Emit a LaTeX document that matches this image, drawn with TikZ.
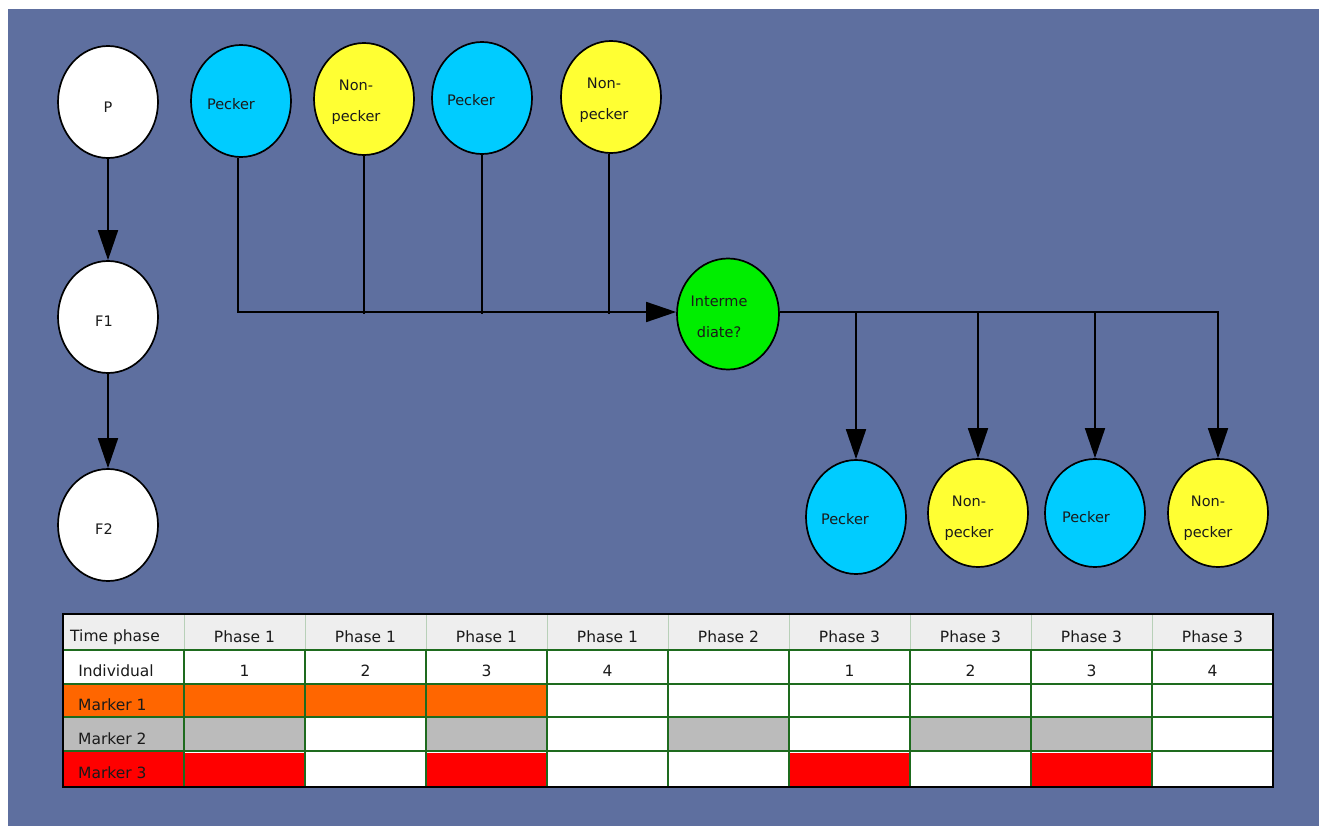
\documentclass[tikz,border=0pt]{standalone}
\usepackage{fontspec}
\setmainfont{DejaVu Sans}
\usetikzlibrary{shapes.geometric,arrows.meta}
\definecolor{bg}{HTML}{5E6F9F}
\definecolor{pk}{HTML}{00CCFF}
\definecolor{np}{HTML}{FFFF33}
\definecolor{imd}{HTML}{00EE00}
\definecolor{gridc}{HTML}{1E6B1E}
\definecolor{hdrsep}{HTML}{B8D0B8}
\definecolor{hdr}{HTML}{EEEEEE}
\definecolor{mk1}{HTML}{FF6600}
\definecolor{mk2}{HTML}{BBBBBB}
\definecolor{mk3}{HTML}{FF0000}
\definecolor{ink}{HTML}{1A1A1A}
\begin{document}
\begin{tikzpicture}[x=1pt,y=-1pt,
  bubble/.style={ellipse, draw=black, line width=1.7pt, minimum width=100pt,
                 minimum height=112pt, inner sep=0pt},
  lbl/.style={text=ink, font=\fontsize{14.5}{31}\selectfont, align=center, inner sep=0pt},
  conn/.style={line width=1.7pt, draw=black},
  arr/.style={conn, -{Triangle[length=30pt,width=20pt]}},
  cell/.style={font=\fontsize{15.5}{17}\selectfont, text=ink, inner sep=0pt},
]
% page and backdrop
\useasboundingbox (0,0) rectangle (1319,826);
\fill[white] (0,0) rectangle (1319,826);
\fill[bg] (8,9) rectangle (1319,826);

% generations
\node[bubble, fill=white] (P)  at (108,102) {};
\node[bubble, fill=white] (F1) at (108,317) {};
\node[bubble, fill=white] (F2) at (108,525) {};
\node[lbl] (Pt)  at (108,107) {P};
\node[lbl] (F1t) at (104,321) {F1};
\node[lbl] (F2t) at (104,529) {F2};

% phase 1 individuals
\node[bubble, fill=pk] (pk1) at (241,101) {};
\node[bubble, fill=np] (np1) at (364,99)  {};
\node[bubble, fill=pk] (pk2) at (482,98)  {};
\node[bubble, fill=np] (np2) at (611,97)  {};
\node[lbl] (pk1t) at (231,104) {Pecker};
\node[lbl] (np1t) at (356,102) {Non-\\pecker};
\node[lbl] (pk2t) at (471,100) {Pecker};
\node[lbl] (np2t) at (604,100) {Non-\\pecker};

% intermediate
\node[bubble, fill=imd, minimum width=102pt, minimum height=111pt] (im) at (728,314) {};
\node[lbl] (imt) at (719,317) {Interme\\diate?};

% phase 3 individuals
\node[bubble, fill=pk, minimum height=114pt] (pk3) at (856,517) {};
\node[bubble, fill=np, minimum height=108pt] (np3) at (978,513) {};
\node[bubble, fill=pk, minimum height=108pt] (pk4) at (1095,513) {};
\node[bubble, fill=np, minimum height=108pt] (np4) at (1218,513) {};
\node[lbl] (pk3t) at (845,519) {Pecker};
\node[lbl] (np3t) at (969,518) {Non-\\pecker};
\node[lbl] (pk4t) at (1086,517) {Pecker};
\node[lbl] (np4t) at (1208,518) {Non-\\pecker};

% generation arrows
\draw[arr] (P.south) -- (F1.north);
\draw[arr] (F1.south) -- (F2.north);

% converging trunk
\draw[arr] ([xshift=-3pt]pk1.south) |- ([yshift=2pt]im.west);
\draw[conn] (np1.south) -- (np1.south |- im.west);
\draw[conn] (pk2.south) -- (pk2.south |- im.west);
\draw[conn] ([xshift=-2pt]np2.south) -- ([xshift=-2pt]np2.south |- im.west);

% diverging trunk
\draw[arr] ([yshift=2pt]im.east) -| (np4.north);
\draw[arr] ([yshift=2pt]im.east -| pk3.north) -- (pk3.north);
\draw[arr] ([yshift=2pt]im.east -| np3.north) -- (np3.north);
\draw[arr] ([yshift=2pt]im.east -| pk4.north) -- (pk4.north);

% ---- marker table ----
\fill[white] (63,614) rectangle (1273,787);
\fill[hdr] (63,614) rectangle (1273,650);
% label column fills
\fill[mk1] (63,684) rectangle (184,717);
\fill[mk2] (63,717) rectangle (184,751);
\fill[mk3] (63,751) rectangle (184,787);
% marker cells
\foreach \k in {1,2,3}
  \fill[mk1] ({63+121*\k},684) rectangle +(121,33);
\foreach \k in {1,3,5,7,8}
  \fill[mk2] ({63+121*\k},717) rectangle +(121,34);
\foreach \k in {1,3,6,8}
  \fill[mk3] ({63+121*\k},753) rectangle +(121,34);
% grid
\foreach \k in {1,...,9}
  \draw[hdrsep, line width=0.8pt] ({63+121*\k},614) -- ({63+121*\k},650);
\foreach \k in {1,...,9}
  \draw[gridc, line width=1.4pt] ({63+121*\k},650) -- ({63+121*\k},787);
\foreach \y in {650,684,717,751}
  \draw[gridc, line width=1.4pt] (63,\y) -- (1273,\y);
\draw[black, line width=2pt] (63,614) rectangle (1273,787);

% header row
\node[cell, anchor=west] (hd0) at (70,637) {Time phase};
\foreach [count=\k] \t in {Phase 1,Phase 1,Phase 1,Phase 1,Phase 2,Phase 3,Phase 3,Phase 3,Phase 3}
  \node[cell] (hd\k) at ({63+121*\k+60.5},637) {\t};
% individual row
\node[cell] (in0) at (116,671) {Individual};
\foreach [count=\k] \t in {1,2,3,4,{},1,2,3,4}
  \node[cell] (in\k) at ({63+121*\k+60.5},671) {\t};
% marker labels
\node[cell, anchor=west] (mk1t) at (78,705) {Marker 1};
\node[cell, anchor=west] (mk2t) at (78,739) {Marker 2};
\node[cell, anchor=west] (mk3t) at (78,773) {Marker 3};
\end{tikzpicture}
\end{document}
